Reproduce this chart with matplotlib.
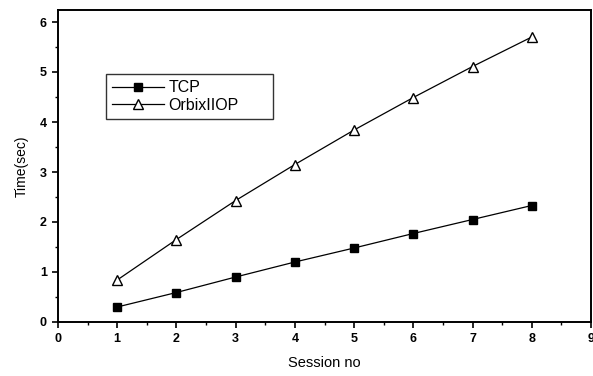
import matplotlib.pyplot as plt
from matplotlib.ticker import MultipleLocator

plt.rcParams['font.family'] = ['Liberation Sans', 'DejaVu Sans']

sessions = [1, 2, 3, 4, 5, 6, 7, 8]
tcp_time = [0.30, 0.59, 0.90, 1.20, 1.48, 1.77, 2.05, 2.33]
orbix_time = [0.84, 1.65, 2.43, 3.15, 3.84, 4.49, 5.11, 5.70]

fig = plt.figure(figsize=(5.93, 3.76), dpi=100)
W, H = 593, 376
ax = fig.add_axes([58 / W, (H - 322) / H, (591 - 58) / W, (322 - 10) / H])

ax.plot(sessions, tcp_time, 'k-', lw=0.9, marker='s', ms=6,
        mfc='black', mec='black', label='TCP')
ax.plot(sessions, orbix_time, 'k-', lw=0.9, marker='^', ms=7,
        mfc='white', mec='black', mew=1.0, label='OrbixIIOP')

ax.set_xlim(0, 9)
ax.set_ylim(0, 6.24)
ax.xaxis.set_major_locator(MultipleLocator(1))
ax.xaxis.set_minor_locator(MultipleLocator(0.5))
ax.yaxis.set_major_locator(MultipleLocator(1))
ax.yaxis.set_minor_locator(MultipleLocator(0.5))
ax.tick_params(which='major', direction='out', length=4.5, width=1.2,
               labelsize=9, top=False, right=False)
ax.tick_params(which='minor', direction='out', length=2.5, width=1.0,
               top=False, right=False)
for lab in ax.get_xticklabels() + ax.get_yticklabels():
    lab.set_fontweight('bold')
for s in ax.spines.values():
    s.set_linewidth(1.4)

ax.set_xlabel('Session no', fontsize=10.5, labelpad=8)
ax.set_ylabel('Time(sec)', fontsize=10, labelpad=8)

# legend box roughly x 106..273, y 74..119 px
x0 = (106 - 58) / 533
y0 = (322 - 119) / 312
lw_ = (273 - 106) / 533
lh_ = (119 - 74) / 312
leg = ax.legend(loc='upper left', bbox_to_anchor=(x0, y0, lw_, lh_), mode='expand',
                fontsize=11.5, frameon=True, fancybox=False, edgecolor='black',
                borderpad=0.4, handlelength=3.2, handletextpad=0.3,
                labelspacing=0.15, borderaxespad=0)
leg.get_frame().set_linewidth(1.0)

fig.savefig('out.png', dpi=100)
